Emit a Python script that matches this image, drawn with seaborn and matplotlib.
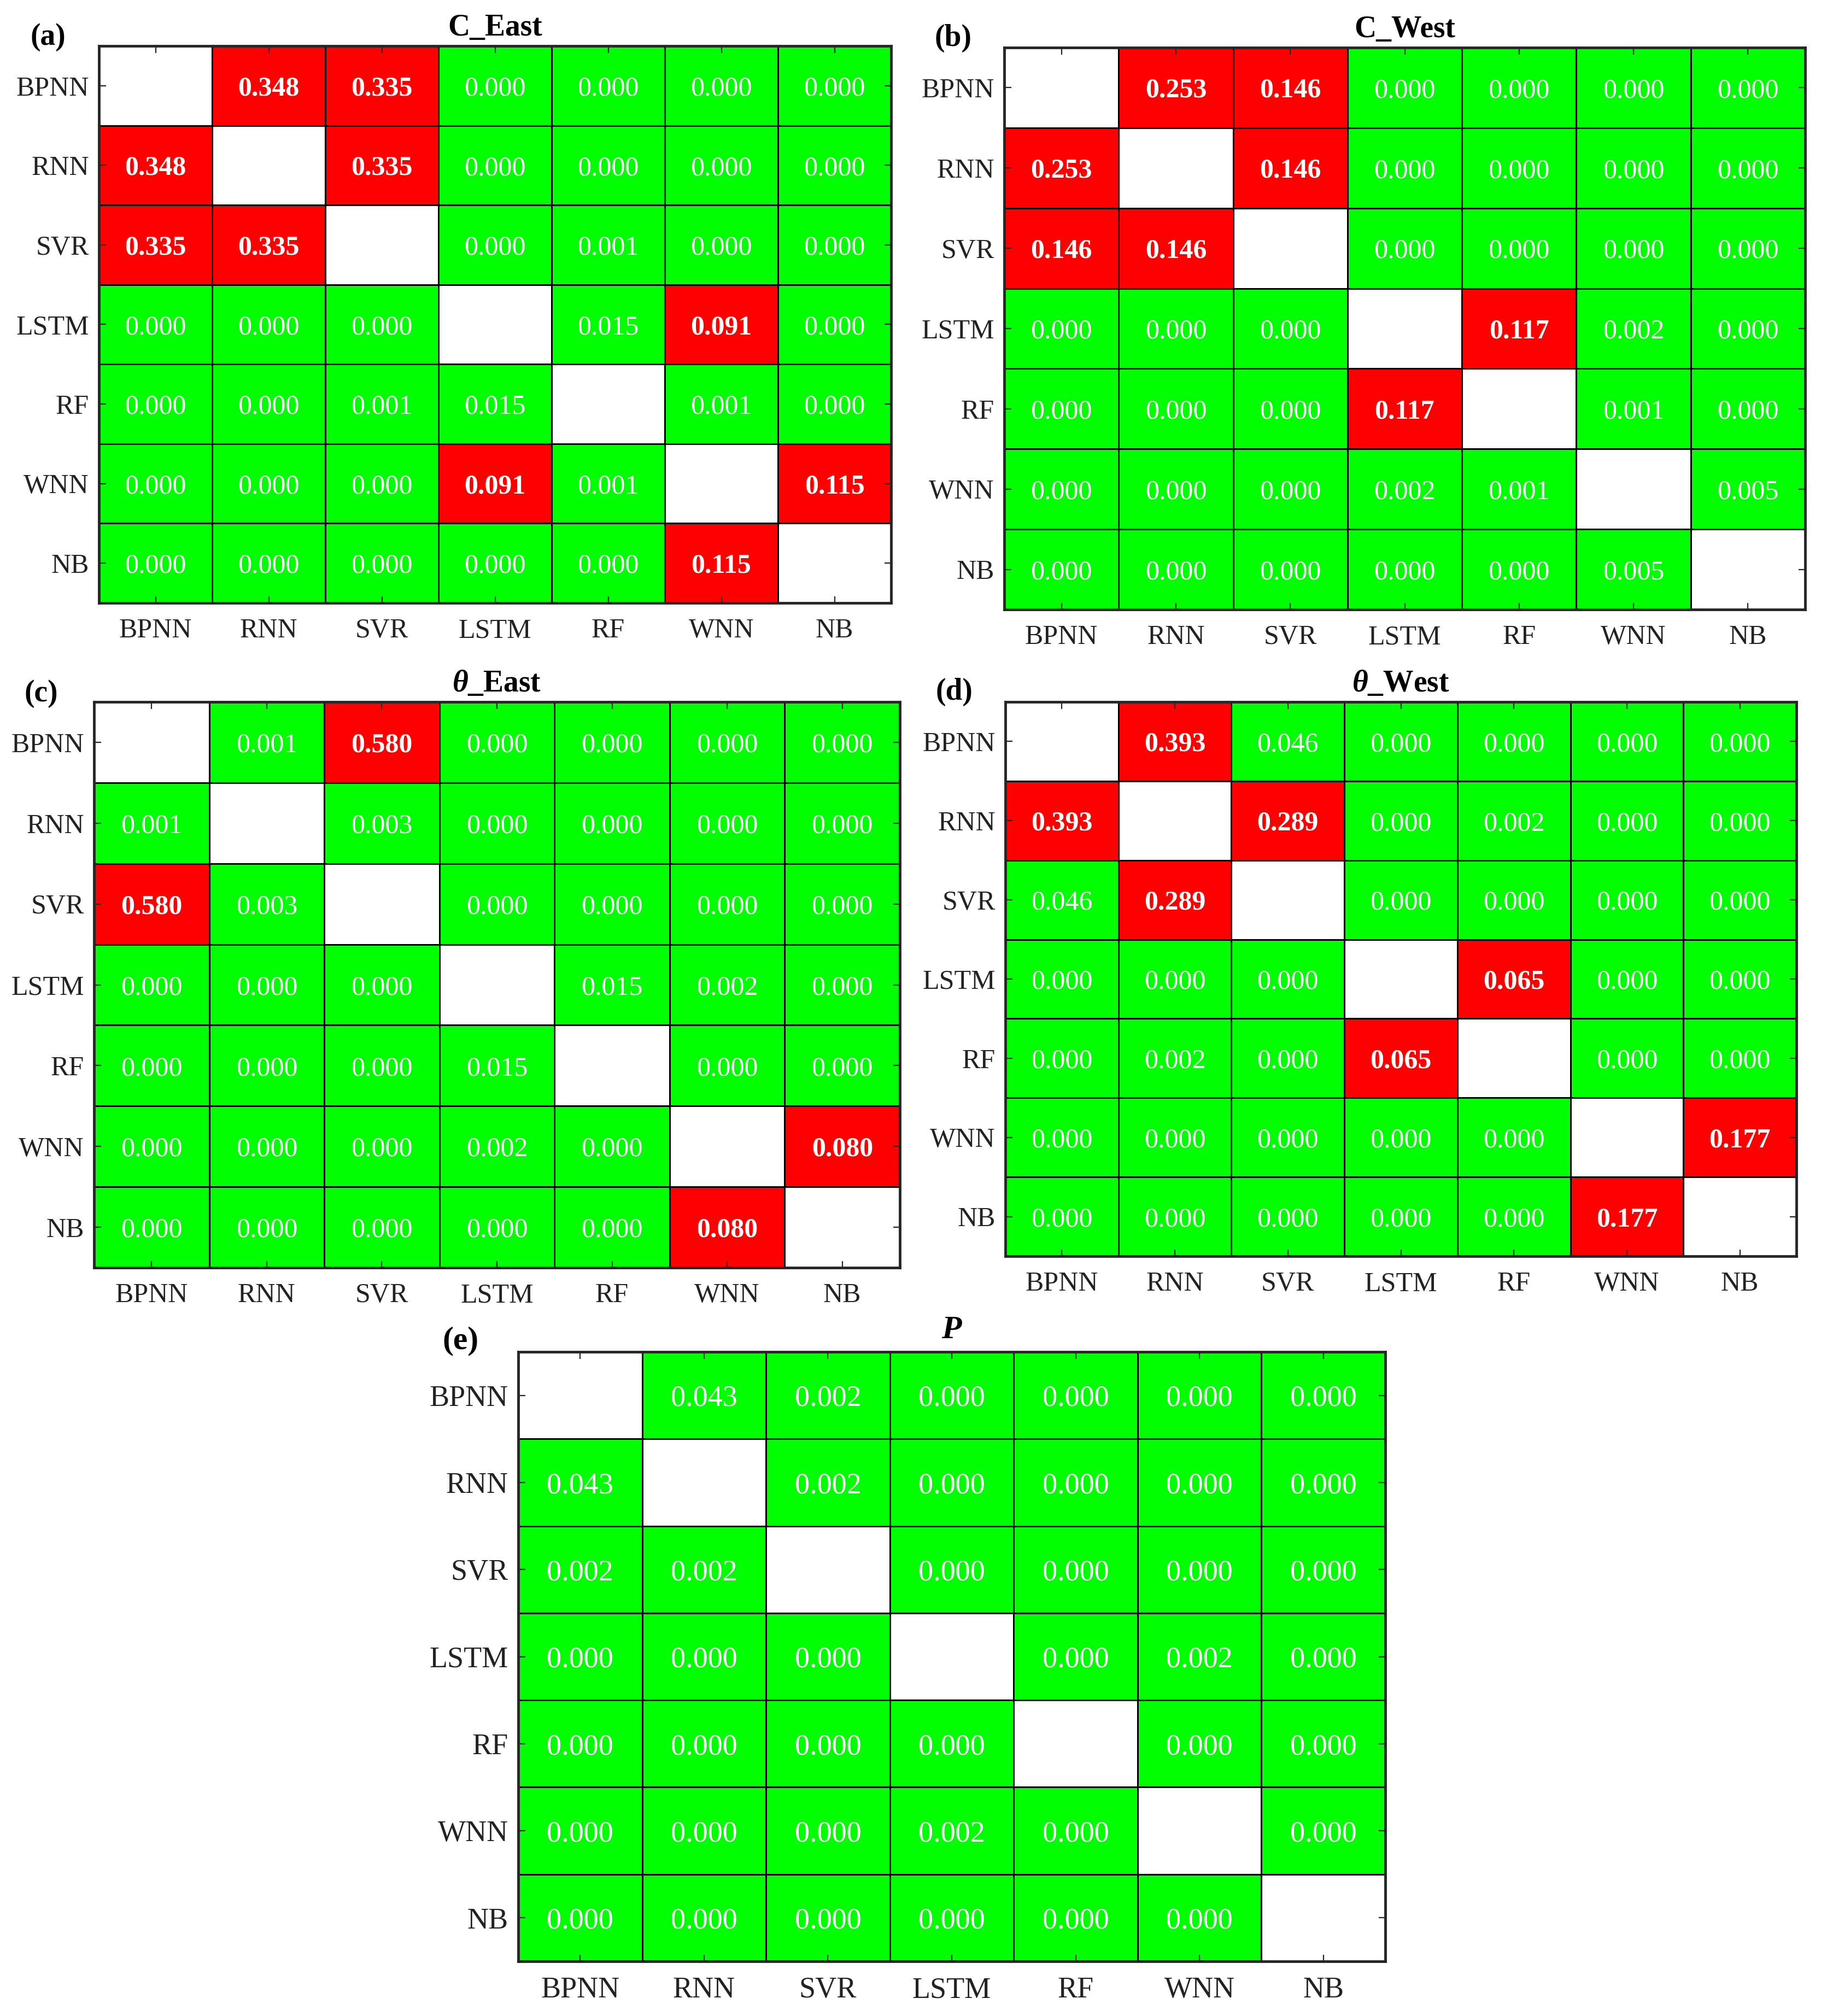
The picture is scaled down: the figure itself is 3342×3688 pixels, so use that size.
"""
Matrizes de p-valores (teste par-a-par entre modelos) — 5 painéis.
Vermelho: p > 0.05, verde: p <= 0.05, diagonal em branco.
"""

import numpy as np
import matplotlib
matplotlib.use("Agg")
import matplotlib.pyplot as plt
from matplotlib.colors import ListedColormap
import seaborn as sns

# ------------------------------------------------------------------ #
MODELS = ["BPNN", "RNN", "SVR", "LSTM", "RF", "WNN", "NB"]
ALPHA  = 0.05
N = None  # diagonal

p_c_east = [
    [N,     0.348, 0.335, 0.000, 0.000, 0.000, 0.000],
    [0.348, N,     0.335, 0.000, 0.000, 0.000, 0.000],
    [0.335, 0.335, N,     0.000, 0.001, 0.000, 0.000],
    [0.000, 0.000, 0.000, N,     0.015, 0.091, 0.000],
    [0.000, 0.000, 0.001, 0.015, N,     0.001, 0.000],
    [0.000, 0.000, 0.000, 0.091, 0.001, N,     0.115],
    [0.000, 0.000, 0.000, 0.000, 0.000, 0.115, N    ],
]
p_c_west = [
    [N,     0.253, 0.146, 0.000, 0.000, 0.000, 0.000],
    [0.253, N,     0.146, 0.000, 0.000, 0.000, 0.000],
    [0.146, 0.146, N,     0.000, 0.000, 0.000, 0.000],
    [0.000, 0.000, 0.000, N,     0.117, 0.002, 0.000],
    [0.000, 0.000, 0.000, 0.117, N,     0.001, 0.000],
    [0.000, 0.000, 0.000, 0.002, 0.001, N,     0.005],
    [0.000, 0.000, 0.000, 0.000, 0.000, 0.005, N    ],
]
p_theta_east = [
    [N,     0.001, 0.580, 0.000, 0.000, 0.000, 0.000],
    [0.001, N,     0.003, 0.000, 0.000, 0.000, 0.000],
    [0.580, 0.003, N,     0.000, 0.000, 0.000, 0.000],
    [0.000, 0.000, 0.000, N,     0.015, 0.002, 0.000],
    [0.000, 0.000, 0.000, 0.015, N,     0.000, 0.000],
    [0.000, 0.000, 0.000, 0.002, 0.000, N,     0.080],
    [0.000, 0.000, 0.000, 0.000, 0.000, 0.080, N    ],
]
p_theta_west = [
    [N,     0.393, 0.046, 0.000, 0.000, 0.000, 0.000],
    [0.393, N,     0.289, 0.000, 0.002, 0.000, 0.000],
    [0.046, 0.289, N,     0.000, 0.000, 0.000, 0.000],
    [0.000, 0.000, 0.000, N,     0.065, 0.000, 0.000],
    [0.000, 0.002, 0.000, 0.065, N,     0.000, 0.000],
    [0.000, 0.000, 0.000, 0.000, 0.000, N,     0.177],
    [0.000, 0.000, 0.000, 0.000, 0.000, 0.177, N    ],
]
p_p = [
    [N,     0.043, 0.002, 0.000, 0.000, 0.000, 0.000],
    [0.043, N,     0.002, 0.000, 0.000, 0.000, 0.000],
    [0.002, 0.002, N,     0.000, 0.000, 0.000, 0.000],
    [0.000, 0.000, 0.000, N,     0.000, 0.002, 0.000],
    [0.000, 0.000, 0.000, 0.000, N,     0.000, 0.000],
    [0.000, 0.000, 0.000, 0.002, 0.000, N,     0.000],
    [0.000, 0.000, 0.000, 0.000, 0.000, 0.000, N    ],
]
# ------------------------------------------------------------------ #

plt.rcParams.update({
    "font.family": "Liberation Serif",
    "mathtext.fontset": "custom",
    "mathtext.rm": "Liberation Serif",
    "mathtext.it": "Liberation Serif:italic",
    "mathtext.bf": "Liberation Serif:bold",
    "mathtext.bfit": "Liberation Serif:italic:bold",
})

W, H = 3342, 3688
fig = plt.figure(figsize=(W / 100, H / 100), dpi=100)

cmap = ListedColormap(["#00FF00", "#FF0000"])


def panel(rect_px, data, title, tag, tag_xy, fs=36, title_pad=14):
    x0, y0, x1, y1 = rect_px
    ax = fig.add_axes([x0 / W, 1 - y1 / H, (x1 - x0) / W, (y1 - y0) / H])
    vals = np.array(data, dtype=float)
    mask = np.isnan(vals)
    sig = (vals > ALPHA).astype(float)

    sns.heatmap(
        sig, mask=mask, cmap=cmap, vmin=0, vmax=1, cbar=False,
        annot=vals, fmt=".3f", annot_kws={"color": "white", "fontsize": fs},
        linewidths=2, linecolor="black",
        xticklabels=MODELS, yticklabels=MODELS, ax=ax,
    )
    # p > alpha em negrito
    for t in ax.texts:
        t.set_va("center_baseline")
        if float(t.get_text()) > ALPHA:
            t.set_fontweight("bold")

    for s in ax.spines.values():
        s.set_visible(True)
        s.set_linewidth(3.5)
        s.set_color("#262626")

    ax.tick_params(direction="in", top=True, right=True, length=9,
                   width=1.6, color="#262626", labelsize=fs,
                   labelcolor="#222222")
    ax.tick_params(axis="x", pad=20)
    ax.tick_params(axis="y", pad=13)
    plt.setp(ax.get_yticklabels(), rotation=0, va="center_baseline")
    plt.setp(ax.get_xticklabels(), rotation=0)

    ax.set_title(title, fontsize=fs + 4, fontweight="bold", pad=title_pad)
    fig.text(tag_xy[0] / W, 1 - tag_xy[1] / H, tag, fontsize=fs + 4,
             fontweight="bold", ha="center", va="center")
    return ax


panel((181, 84, 1630, 1103), p_c_east, "C_East", "(a)", (88, 68))
panel((1837, 87, 3302, 1115), p_c_west, "C_West", "(b)", (1743, 70))
panel((172, 1284, 1646, 2319), p_theta_east, r"$\mathbfit{\theta}$_East",
      "(c)", (75, 1269))
panel((1839, 1284, 3286, 2298), p_theta_west, r"$\mathbfit{\theta}$_West",
      "(d)", (1745, 1266))
panel((948, 2473, 2534, 3588), p_p, r"$\mathbfit{P}$", "(e)", (842, 2453),
      fs=39, title_pad=18)

fig.savefig("out.png", dpi=100)
plt.close(fig)
